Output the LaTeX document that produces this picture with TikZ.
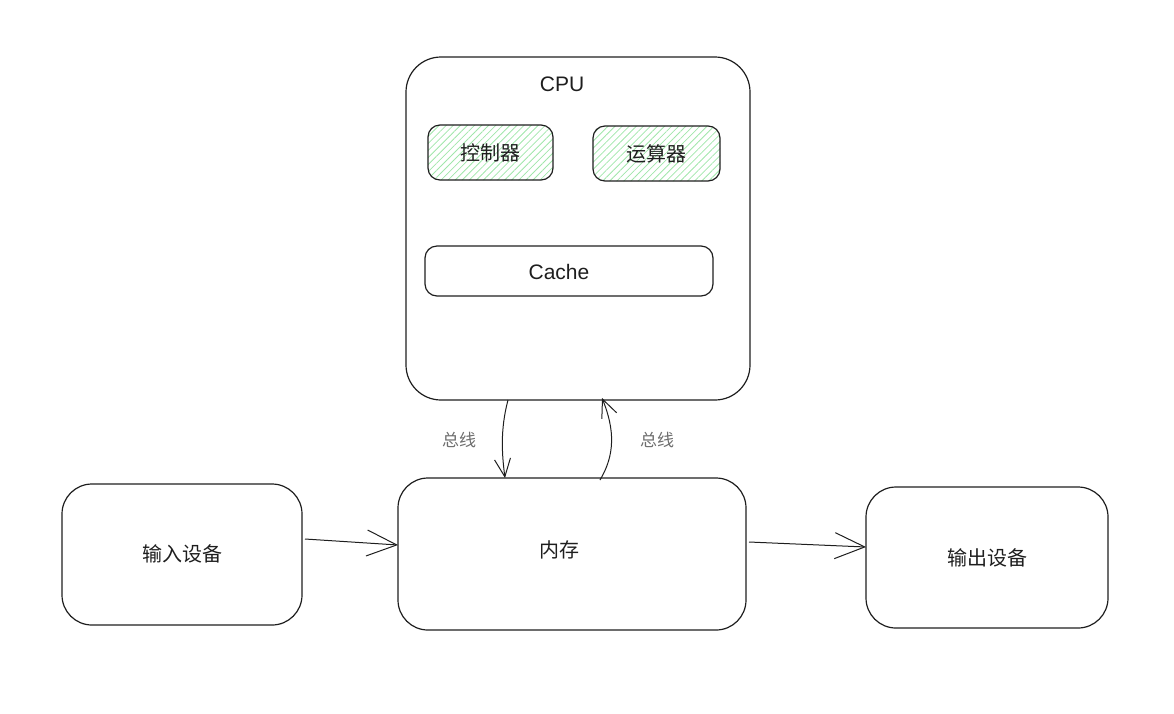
\documentclass[tikz,border=0pt]{standalone}
\usepackage{fontspec}
\setmainfont{Liberation Sans}
\newfontfamily\cjk{Noto Sans CJK SC}[Scale=1]
\usetikzlibrary{arrows.meta,patterns.meta}
\definecolor{inkc}{RGB}{30,30,30}
\definecolor{hatchc}{RGB}{160,230,170}
\definecolor{labelc}{RGB}{110,110,110}
\tikzset{
  box/.style={draw=inkc, line width=1.2pt, rounded corners=#1},
  box/.default=30pt,
  hatchbox/.style={draw=inkc, line width=1.2pt, rounded corners=12pt, pattern={Lines[angle=45,distance=5pt,line width=0.8pt]}, pattern color=hatchc},
  conn/.style={draw=inkc, line width=1pt, -{Straight Barb[length=30pt,width=26pt,line width=1pt]}},
  busconn/.style={draw=inkc, line width=1pt, -{Straight Barb[length=18pt,width=16pt,line width=1pt]}},
  txt/.style={font=\cjk\fontsize{20}{20}\selectfont, text=inkc},
  lbl/.style={font=\cjk\fontsize{17}{17}\selectfont, text=labelc},
  lat/.style={font=\fontsize{21}{21}\selectfont, text=inkc},
}
\begin{document}
\begin{tikzpicture}[x=1pt,y=-1pt]
\useasboundingbox (0,0) rectangle (1174,713);
% boxes
\draw[box=35pt] (406,57) rectangle (750,400);
\coordinate (cpuL) at (508,400);
\coordinate (cpuR) at (602,398);
\node[lat] (cpu) at (562,84) {CPU};
\draw[hatchbox] (428,125) rectangle (553,180);
\node[txt] (ctrl) at (490,153) {控制器};
\draw[hatchbox] (593,126) rectangle (720,181);
\node[txt] (alu) at (656,154) {运算器};
\draw[box=12pt] (425,246) rectangle (713,296);
\node[lat] (cache) at (559,272) {Cache};
\draw[box=30pt] (398,478) rectangle (746,630);
\node[txt] (mem) at (559,550) {内存};
\coordinate (memL) at (505,478);
\coordinate (memR) at (600,480);
\coordinate (memIn) at (398,545);
\coordinate (memOut) at (749,542);
\draw[box=30pt] (62,484) rectangle (302,625);
\node[txt] (in) at (182,554) {输入设备};
\coordinate (inOut) at (305,539);
\draw[box=30pt] (866,487) rectangle (1108,628);
\node[txt] (out) at (987,558) {输出设备};
\coordinate (outIn) at (866,547);
% connectors
\draw[busconn] (cpuL) .. controls (500,430) and (502,455) .. (memL);
\draw[busconn] (memR) .. controls (615,455) and (615,430) .. (cpuR);
\draw[conn] (inOut) -- (memIn);
\draw[conn] (memOut) -- (outIn);
\node[lbl] (bus1) at (459,440) {总线};
\node[lbl] (bus2) at (657,440) {总线};
\end{tikzpicture}
\end{document}
